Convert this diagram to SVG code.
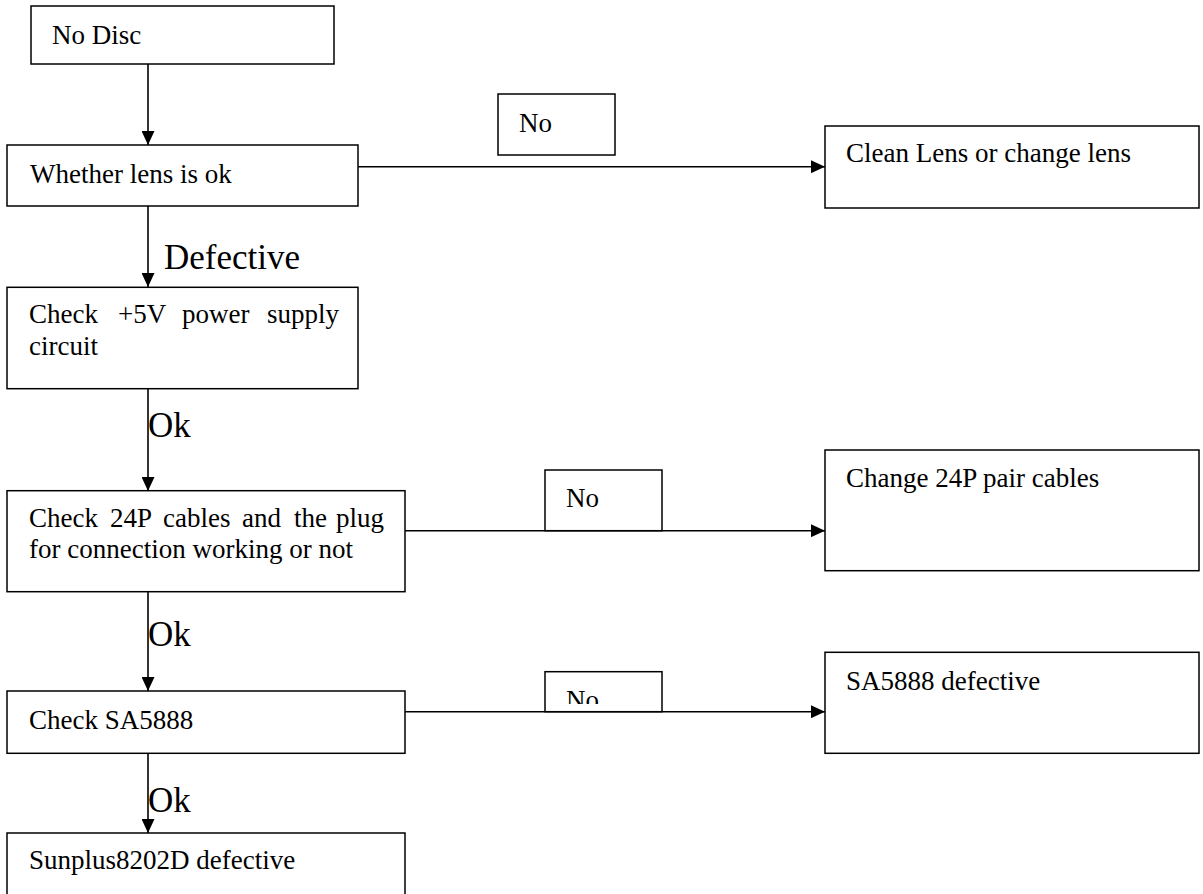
<svg xmlns="http://www.w3.org/2000/svg" width="1203" height="894" viewBox="0 0 1203 894">
<style>
.box{fill:#fff;stroke:#000;stroke-width:1.5}
.t{font-family:"Liberation Serif","Times New Roman",serif;font-size:27px;fill:#000}
.big{font-family:"Liberation Serif","Times New Roman",serif;font-size:35px;fill:#000}
.ln{stroke:#000;stroke-width:1.6;fill:none;marker-end:url(#ah)}
</style>
<defs>
<marker id="ah" viewBox="0 0 14 13" refX="14" refY="6.5" markerWidth="14" markerHeight="13" markerUnits="userSpaceOnUse" orient="auto">
<path d="M0,0 L14,6.5 L0,13 Z" fill="#000"/>
</marker>
<clipPath id="clipNo3"><rect x="545" y="672" width="117" height="32"/></clipPath>
</defs>
<rect width="1203" height="894" fill="#fff"/>
<g id="connectors">
<line class="ln" x1="148" y1="64" x2="148" y2="145"/>
<line class="ln" x1="148" y1="206" x2="148" y2="287"/>
<line class="ln" x1="148" y1="389" x2="148" y2="491"/>
<line class="ln" x1="148" y1="592" x2="148" y2="691"/>
<line class="ln" x1="148" y1="753" x2="148" y2="833"/>
<line class="ln" x1="358" y1="166.7" x2="825" y2="166.7"/>
<line class="ln" x1="405" y1="530.7" x2="825" y2="530.7"/>
<line class="ln" x1="405" y1="711.7" x2="825" y2="711.7"/>
<text class="big" x="164" y="269">Defective</text>
<text class="big" x="148" y="437">Ok</text>
<text class="big" x="148" y="646">Ok</text>
<text class="big" x="148" y="812">Ok</text>
</g>
<g id="no-disc">
<rect class="box" x="31" y="6" width="303" height="58"/>
<text class="t" x="52" y="44">No Disc</text>
</g>
<g id="lens-ok">
<rect class="box" x="7" y="145" width="351" height="61"/>
<text class="t" x="30" y="183">Whether lens is ok</text>
</g>
<g id="no-label-1">
<rect class="box" x="498" y="94" width="117" height="61"/>
<text class="t" x="519" y="132">No</text>
</g>
<g id="clean-lens">
<rect class="box" x="825" y="126" width="374" height="82"/>
<text class="t" x="846" y="162">Clean Lens or change lens</text>
</g>
<g id="check-5v">
<rect class="box" x="7" y="287.3" width="351" height="101.4"/>
<text class="t" y="323"><tspan x="29">Check</tspan><tspan x="118">+5V</tspan><tspan x="182">power</tspan><tspan x="267">supply</tspan></text>
<text class="t" x="29" y="355">circuit</text>
</g>
<g id="check-24p">
<rect class="box" x="7" y="490.7" width="398" height="101"/>
<text class="t" y="527"><tspan x="29">Check</tspan><tspan x="110">24P</tspan><tspan x="163">cables</tspan><tspan x="242">and</tspan><tspan x="294">the</tspan><tspan x="336">plug</tspan></text>
<text class="t" x="29" y="558">for connection working or not</text>
</g>
<g id="no-label-2">
<rect class="box" x="545" y="470" width="117" height="60.7"/>
<text class="t" x="566" y="507">No</text>
</g>
<g id="change-24p">
<rect class="box" x="825" y="450" width="374" height="120.7"/>
<text class="t" x="846" y="487">Change 24P pair cables</text>
</g>
<g id="check-sa5888">
<rect class="box" x="7" y="691" width="398" height="62.3"/>
<text class="t" x="29" y="729">Check SA5888</text>
</g>
<g id="no-label-3">
<rect class="box" x="545" y="671.7" width="117" height="40"/>
<text class="t" x="566" y="709" clip-path="url(#clipNo3)">No</text>
</g>
<g id="sa5888-defective">
<rect class="box" x="825" y="652.3" width="374" height="101"/>
<text class="t" x="846" y="690">SA5888 defective</text>
</g>
<g id="sunplus">
<rect class="box" x="7" y="833" width="398" height="80"/>
<text class="t" x="29" y="869">Sunplus8202D defective</text>
</g>
</svg>
